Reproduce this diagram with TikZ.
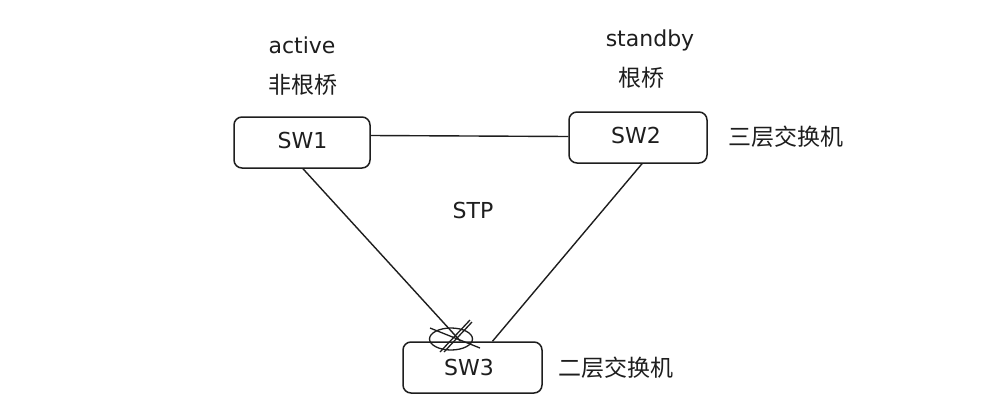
\documentclass[tikz,border=0pt]{standalone}
\usepackage{fontspec}
\setmainfont{DejaVu Sans}
\newfontfamily\cjk{Noto Sans CJK SC}
\usetikzlibrary{calc}
\definecolor{ink}{HTML}{1E1E1E}
\tikzset{
  swbox/.style={draw=ink, line width=1.5pt, rounded corners=8pt, inner sep=0pt},
  lbl/.style={text=ink, inner sep=0pt, font=\fontsize{22}{22}\selectfont},
  cjklbl/.style={text=ink, inner sep=0pt, font=\cjk\fontsize{23}{23}\selectfont},
  link/.style={draw=ink, line width=1.4pt},
  blockmark/.style={draw=ink, line width=1.3pt}
}
\begin{document}
\begin{tikzpicture}[x=1pt,y=-1pt]
\useasboundingbox (0,0) rectangle (1005,410);
\fill[white] (0,0) rectangle (1005,410);
% boxes
\node[swbox, minimum width=136pt, minimum height=51pt] (SW1) at (302,142.5) {};
\node[swbox, minimum width=138pt, minimum height=51pt] (SW2) at (638,137.5) {};
\node[swbox, minimum width=139pt, minimum height=51pt] (SW3) at (472.5,367.5) {};
% box labels
\node[lbl, anchor=base] (t1) at (302.5,148) {SW1};
\node[lbl, anchor=base] (t2) at (636,143) {SW2};
\node[lbl, anchor=base] (t3) at (469,375) {SW3};
% other labels
\node[lbl, anchor=base] (act) at (302,53) {active};
\node[cjklbl] (nrb) at (303,85) {非根桥};
\node[lbl, anchor=base] (stb) at (650,46) {standby};
\node[cjklbl] (rb) at (641,77.5) {根桥};
\node[cjklbl] (l3) at (786,137) {三层交换机};
\node[cjklbl] (l2) at (616,367.5) {二层交换机};
\node[lbl, anchor=base] (stp) at (473,218) {STP};
% links
\draw[link] ($(SW1.east)+(0,-7)$) -- ($(SW2.west)+(0,-1)$);
\draw[link] ($(SW1.south)+(1,0)$) -- ($(SW3.north)+(-12,0)$);
\draw[link] ($(SW2.south)+(4,0)$) -- ($(SW3.north)+(20,0)$);
% blocked port mark
\coordinate (bp) at (451,339);
\draw[blockmark] (bp) ellipse [x radius=21.5, y radius=11];
\draw[blockmark] ($(bp)+(-21,-11)$) -- ($(bp)+(29,9)$);
\draw[blockmark] ($(bp)+(-11,13)$) -- ($(bp)+(19,-19)$);
\draw[blockmark] ($(bp)+(-7,13)$) -- ($(bp)+(21,-17)$);
\end{tikzpicture}
\end{document}
